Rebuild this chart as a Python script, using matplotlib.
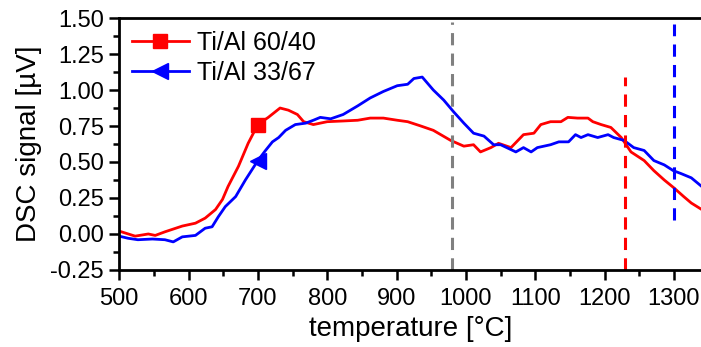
import numpy as np
import matplotlib
matplotlib.use("Agg")
import matplotlib.pyplot as plt
from matplotlib.ticker import MultipleLocator, FormatStrFormatter

plt.rcParams['font.family'] = ['Liberation Sans', 'DejaVu Sans']
plt.rcParams['axes.unicode_minus'] = False

# Ti/Al 60/40 (red)
t_red = [500, 523, 542, 552, 566, 591, 610, 624, 639, 649, 657, 672, 686, 700,
         715, 732, 744, 757, 766, 780, 800, 823, 844, 862, 881, 901, 916, 935,
         953, 978, 997, 1011, 1021, 1036, 1047, 1065, 1083, 1098, 1108, 1122,
         1137, 1147, 1161, 1176, 1183, 1195, 1209, 1224, 1238, 1257, 1271,
         1286, 1300, 1314, 1325, 1340]
s_red = [0.02, -0.015, 0.0, -0.01, 0.015, 0.055, 0.075, 0.11, 0.17, 0.24, 0.33,
         0.47, 0.63, 0.76, 0.81, 0.875, 0.86, 0.83, 0.78, 0.76, 0.78, 0.785,
         0.79, 0.805, 0.805, 0.79, 0.78, 0.75, 0.72, 0.65, 0.61, 0.62, 0.57,
         0.60, 0.63, 0.60, 0.69, 0.70, 0.76, 0.78, 0.78, 0.81, 0.805, 0.805,
         0.78, 0.76, 0.74, 0.67, 0.57, 0.51, 0.44, 0.375, 0.32, 0.26, 0.215,
         0.17]

# Ti/Al 33/67 (blue)
t_blue = [500, 513, 527, 548, 566, 578, 591, 610, 624, 634, 643, 653, 668, 682,
          700, 711, 721, 730, 740, 754, 769, 780, 790, 805, 823, 844, 862, 881,
          901, 916, 925, 937, 953, 968, 982, 997, 1011, 1026, 1040, 1050, 1072,
          1083, 1094, 1103, 1122, 1134, 1148, 1158, 1166, 1176, 1190, 1205,
          1213, 1228, 1242, 1257, 1271, 1286, 1299, 1310, 1325, 1340]
s_blue = [-0.015, -0.03, -0.04, -0.035, -0.04, -0.055, -0.02, -0.01, 0.04, 0.05,
          0.12, 0.19, 0.26, 0.375, 0.51, 0.58, 0.64, 0.67, 0.72, 0.76, 0.77,
          0.79, 0.81, 0.80, 0.83, 0.89, 0.945, 0.99, 1.03, 1.04, 1.08, 1.09,
          1.00, 0.93, 0.85, 0.77, 0.70, 0.68, 0.62, 0.62, 0.57, 0.60, 0.57,
          0.60, 0.62, 0.64, 0.64, 0.69, 0.67, 0.69, 0.67, 0.69, 0.67, 0.65,
          0.60, 0.58, 0.51, 0.48, 0.44, 0.42, 0.39, 0.33]

# vertical markers: position, colour, y-range
vlines = [(980, 'gray', -0.25, 1.47), (1230, 'red', -0.25, 1.09),
          (1300, 'blue', 0.10, 1.46)]

fig = plt.figure(figsize=(7.01, 3.47), dpi=100)
ax = fig.add_axes([0.170, 0.222, 0.832, 0.726])

ax.plot(t_red, s_red, color='red', lw=2.0, marker='s', ms=10,
        markevery=[t_red.index(700)], label='Ti/Al 60/40')
ax.plot(t_blue, s_blue, color='blue', lw=2.0, marker='<', ms=11,
        markevery=[t_blue.index(700)], label='Ti/Al 33/67')

for x, c, y0, y1 in vlines:
    ax.plot([x, x], [y0, y1], color=c, lw=2.2, ls=(0, (4, 2.7)))

ax.set_xlim(500, 1341)
ax.set_ylim(-0.25, 1.5)
ax.xaxis.set_major_locator(MultipleLocator(100))
ax.xaxis.set_minor_locator(MultipleLocator(50))
ax.yaxis.set_major_locator(MultipleLocator(0.25))
ax.yaxis.set_minor_locator(MultipleLocator(0.125))
ax.yaxis.set_major_formatter(FormatStrFormatter('%.2f'))
ax.tick_params(which='major', direction='out', length=7, width=1.8,
               labelsize=17, pad=4, top=False, right=False)
ax.tick_params(axis='x', which='major', pad=6)
ax.tick_params(which='minor', direction='out', length=4, width=1.8,
               top=False, right=False)
for sp in ax.spines.values():
    sp.set_linewidth(2.0)
ax.spines['right'].set_visible(False)

ax.set_xlabel('temperature [°C]', fontsize=20, labelpad=4)
ax.set_ylabel('DSC signal [µV]', fontsize=20, labelpad=6)

ax.legend(loc='upper left', frameon=False, fontsize=18, handlelength=2.3,
          borderaxespad=0.2, borderpad=0.3, labelspacing=0.25,
          handletextpad=0.3)

fig.savefig('out.png', dpi=100)
